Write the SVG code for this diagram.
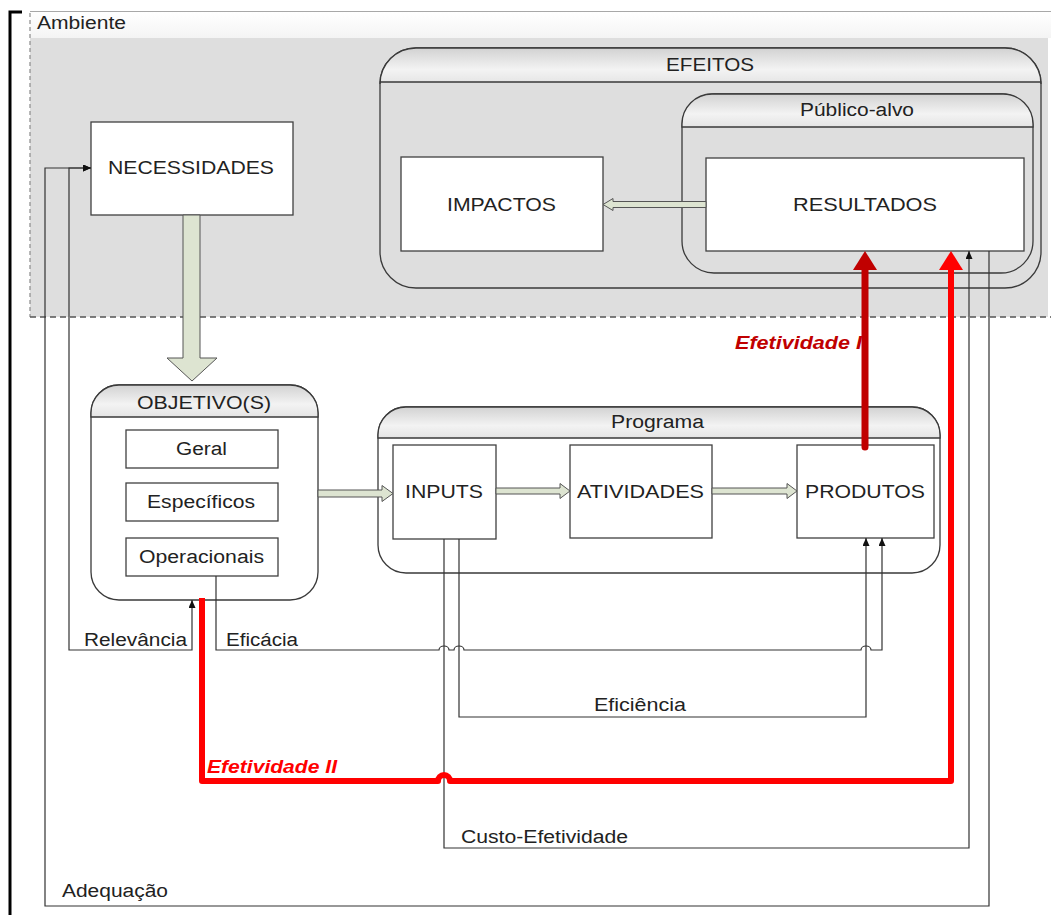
<svg xmlns="http://www.w3.org/2000/svg" width="1051" height="915" viewBox="0 0 1051 915">
  <defs>
    <linearGradient id="hdr" x1="0" y1="0" x2="0" y2="1">
      <stop offset="0" stop-color="#d2d2d2"/>
      <stop offset="0.6" stop-color="#f3f3f3"/>
      <stop offset="1" stop-color="#e4e4e4"/>
    </linearGradient>
    <linearGradient id="envHdr" x1="0" y1="0" x2="0" y2="1">
      <stop offset="0" stop-color="#ffffff"/>
      <stop offset="1" stop-color="#f4f4f4"/>
    </linearGradient>
    <marker id="tip" viewBox="0 0 8 7" refX="8" refY="3.5" markerWidth="8" markerHeight="7" markerUnits="userSpaceOnUse" orient="auto-start-reverse">
      <path d="M0,0 L8,3.5 L0,7 Z" fill="#111"/>
    </marker>
    <style>
      text { font-family: "Liberation Sans", Arial, sans-serif; font-size: 18px; fill: #222; }
      .eff { font-weight: bold; font-style: italic; }
      .box { fill: #ffffff; stroke: #404040; stroke-width: 1.3; }
      .lane { stroke: #3a3a3a; stroke-width: 1.3; }
      .hdr { fill: url(#hdr); stroke: #3a3a3a; stroke-width: 1.3; }
      .fat { fill: #dde4d1; stroke: #555; stroke-width: 1; stroke-linejoin: miter; }
      .thin { fill: none; stroke: #333; stroke-width: 1.2; }
    </style>
  </defs>

  <!-- page frame -->
  <path d="M22,12 H10 V915" fill="none" stroke="#000" stroke-width="3"/>

  <!-- environment band -->
  <g id="ambiente">
    <rect x="30" y="12" width="1021" height="26" fill="url(#envHdr)"/>
    <rect x="30" y="38" width="1018" height="279" fill="#dedede"/>
    <line x1="30" y1="11.5" x2="1051" y2="11.5" stroke="#a8a8a8" stroke-width="1"/>
    <line x1="30" y1="13" x2="30" y2="317" stroke="#8a8a8a" stroke-width="1.2" stroke-dasharray="4,3"/>
    <line x1="30" y1="317" x2="1051" y2="317" stroke="#555" stroke-width="1.3" stroke-dasharray="6,4"/>
    <text x="37" y="29" font-size="17" textLength="89" lengthAdjust="spacingAndGlyphs">Ambiente</text>
  </g>

  <!-- EFEITOS container -->
  <g id="efeitos">
    <rect x="380" y="48" width="661" height="240" rx="36" ry="36" fill="none" class="lane"/>
    <path class="hdr" d="M380,82 V84 A36,36 0 0 1 416,48 H1005 A36,36 0 0 1 1041,84 V82 Z"/>
    <text x="666" y="71" textLength="88" lengthAdjust="spacingAndGlyphs">EFEITOS</text>
  </g>

  <!-- target-audience container -->
  <g id="publico-alvo">
    <rect x="682" y="94" width="351" height="179" rx="32" ry="32" fill="none" class="lane"/>
    <path class="hdr" d="M682,127 V124 A30,30 0 0 1 712,94 H1003 A30,30 0 0 1 1033,124 V127 Z"/>
    <text x="800" y="116" textLength="114" lengthAdjust="spacingAndGlyphs">Público-alvo</text>
  </g>

  <g id="impactos">
    <rect class="box" x="401" y="157" width="202" height="94"/>
    <text x="447" y="211" textLength="109" lengthAdjust="spacingAndGlyphs">IMPACTOS</text>
  </g>

  <g id="resultados">
    <rect class="box" x="706" y="158" width="318" height="93"/>
    <text x="793" y="211" textLength="144" lengthAdjust="spacingAndGlyphs">RESULTADOS</text>
  </g>

  <g id="necessidades">
    <rect class="box" x="91" y="122" width="202" height="93"/>
    <text x="108" y="174" textLength="166" lengthAdjust="spacingAndGlyphs">NECESSIDADES</text>
  </g>

  <!-- objectives container -->
  <g id="objetivos">
    <rect x="91" y="385" width="227" height="215" rx="28" ry="28" fill="#fff" class="lane"/>
    <path class="hdr" d="M91,417 V413 A28,28 0 0 1 119,385 H290 A28,28 0 0 1 318,413 V417 Z"/>
    <text x="137" y="409" textLength="134" lengthAdjust="spacingAndGlyphs">OBJETIVO(S)</text>
  </g>
  <g id="geral">
    <rect class="box" x="126" y="430" width="152" height="38"/>
    <text x="176" y="455" textLength="51" lengthAdjust="spacingAndGlyphs">Geral</text>
  </g>
  <g id="especificos">
    <rect class="box" x="126" y="483" width="152" height="38"/>
    <text x="147" y="508" textLength="108" lengthAdjust="spacingAndGlyphs">Específicos</text>
  </g>
  <g id="operacionais">
    <rect class="box" x="126" y="538" width="152" height="38"/>
    <text x="139" y="563" textLength="125" lengthAdjust="spacingAndGlyphs">Operacionais</text>
  </g>

  <!-- programme container -->
  <g id="programa">
    <rect x="378" y="407" width="562" height="166" rx="28" ry="28" fill="#fff" class="lane"/>
    <path class="hdr" d="M378,438 V435 A28,28 0 0 1 406,407 H912 A28,28 0 0 1 940,435 V438 Z"/>
    <text x="611" y="428" textLength="93" lengthAdjust="spacingAndGlyphs">Programa</text>
  </g>
  <g id="inputs">
    <rect class="box" x="393" y="445" width="103" height="94"/>
    <text x="405" y="498" textLength="78" lengthAdjust="spacingAndGlyphs">INPUTS</text>
  </g>
  <g id="atividades">
    <rect class="box" x="570" y="445" width="142" height="93"/>
    <text x="577" y="498" textLength="127" lengthAdjust="spacingAndGlyphs">ATIVIDADES</text>
  </g>
  <g id="produtos">
    <rect class="box" x="797" y="445" width="137" height="93"/>
    <text x="805" y="498" textLength="120" lengthAdjust="spacingAndGlyphs">PRODUTOS</text>
  </g>

  <!-- connectors -->
  <g id="connectors">
    <!-- block arrows -->
    <path class="fat" d="M183,215 V358 H167 L192,381 L217,358 H200 V215 Z"/>
    <path class="fat" d="M318,490 H382 V485.5 L393,493.5 L382,501.5 V497 H318 Z"/>
    <path class="fat" d="M496,488 H560 V483.5 L570,491 L560,498.5 V494 H496 Z"/>
    <path class="fat" d="M712,488 H787 V483.5 L797,491 L787,498.5 V494 H712 Z"/>
    <path class="fat" d="M706,201.5 H613 V198.5 L603,204.5 L613,210.5 V207.5 H706 Z"/>

    <!-- Relevância -->
    <path class="thin" d="M192,600 V650 H69 V168 H91" marker-start="url(#tip)" marker-end="url(#tip)"/>
    <!-- Adequação -->
    <path class="thin" d="M989,251 V906 H45 V168 H91" marker-end="url(#tip)"/>
    <!-- Eficácia -->
    <path class="thin" d="M216,576 V650 H439 A5,4 0 0 1 449,650 H454 A5,4 0 0 1 464,650 H861 A5,4 0 0 1 871,650 H882 V538" marker-end="url(#tip)"/>
    <!-- Eficiência -->
    <path class="thin" d="M459,539 V717 H866 V538" marker-end="url(#tip)"/>
    <!-- Custo-Efetividade -->
    <path class="thin" d="M444,539 V848 H969 V251" marker-end="url(#tip)"/>

    <!-- Efetividade I -->
    <path d="M865,447 V268" fill="none" stroke="#c00000" stroke-width="7" stroke-linecap="round"/>
    <polygon points="865,251 877,270 853,270" fill="#c00000"/>
    <!-- Efetividade II -->
    <path d="M202,598 V781 H438 A6,6 0 0 1 450,781 H951 V268" fill="none" stroke="#ff0000" stroke-width="6" stroke-linejoin="round"/>
    <polygon points="951,251 963,270 939,270" fill="#ff0000"/>

    <text x="735" y="349" class="eff" style="fill:#c00000" textLength="127" lengthAdjust="spacingAndGlyphs">Efetividade I</text>
    <text x="207" y="773" class="eff" style="fill:#ff0000" textLength="130" lengthAdjust="spacingAndGlyphs">Efetividade II</text>
    <text x="84" y="646" textLength="103" lengthAdjust="spacingAndGlyphs">Relevância</text>
    <text x="226" y="646" textLength="72" lengthAdjust="spacingAndGlyphs">Eficácia</text>
    <text x="594" y="711" textLength="92" lengthAdjust="spacingAndGlyphs">Eficiência</text>
    <text x="461" y="843" textLength="167" lengthAdjust="spacingAndGlyphs">Custo-Efetividade</text>
    <text x="62" y="897" textLength="106" lengthAdjust="spacingAndGlyphs">Adequação</text>
  </g>
</svg>
